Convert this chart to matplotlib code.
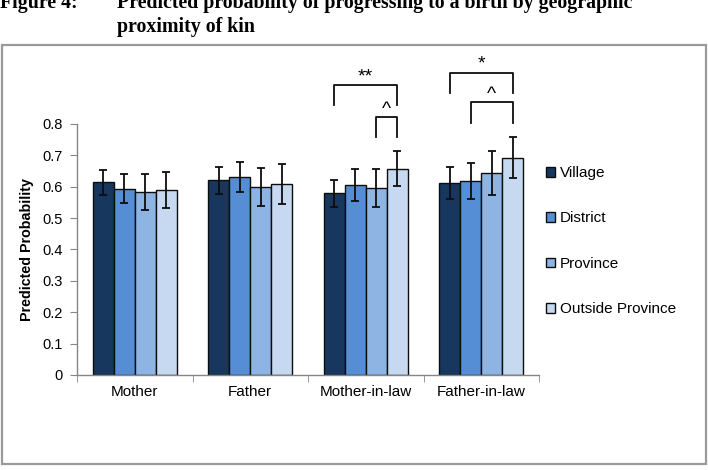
import matplotlib
matplotlib.use("Agg")
import matplotlib.pyplot as plt
from matplotlib.patches import Rectangle, Patch
import numpy as np

categories = ["Mother", "Father", "Mother-in-law", "Father-in-law"]
series = ["Village", "District", "Province", "Outside Province"]
village = [0.614, 0.621, 0.579, 0.612]
district = [0.594, 0.630, 0.607, 0.619]
province = [0.583, 0.600, 0.595, 0.644]
outside = [0.590, 0.608, 0.658, 0.692]
village_err = [0.039, 0.043, 0.042, 0.050]
district_err = [0.046, 0.048, 0.051, 0.058]
province_err = [0.057, 0.060, 0.061, 0.070]
outside_err = [0.058, 0.063, 0.057, 0.065]
ytick_vals = [0, 0.1, 0.2, 0.3, 0.4, 0.5, 0.6, 0.7, 0.8]
ytick_labels = ["0", "0.1", "0.2", "0.3", "0.4", "0.5", "0.6", "0.7", "0.8"]
colors = ["#17375E", "#558ED5", "#8EB4E3", "#C6D9F1"]

values = [village, district, province, outside]
errors = [village_err, district_err, province_err, outside_err]

W, H = 708, 470
fig = plt.figure(figsize=(W / 100, H / 100), dpi=100)
fig.patch.set_facecolor("white")

# outer frame
fig.add_artist(Rectangle((2 / W, (H - 464) / H), 704 / W, 419 / H,
                         transform=fig.transFigure, fill=False,
                         edgecolor="#9A9A9A", linewidth=1.6))

# title
serif = ["Liberation Serif", "DejaVu Serif"]
tfs = 14.3
fig.text(0 / W, 1 - 8 / H, "Figure 4:", fontsize=tfs, fontweight="bold",
         family=serif, va="baseline", ha="left")
fig.text(117 / W, 1 - 8 / H, "Predicted probability of progressing to a birth by geographic",
         fontsize=tfs, fontweight="bold", family=serif, va="baseline", ha="left")
fig.text(117 / W, 1 - 32 / H, "proximity of kin", fontsize=tfs, fontweight="bold",
         family=serif, va="baseline", ha="left")

ax = fig.add_axes([77 / W, (H - 375) / H, 462 / W, 251 / H])
sans = ["Liberation Sans", "DejaVu Sans"]

x = np.arange(len(categories))
bw = 0.182
for j in range(4):
    ax.bar(x + (j - 1.5) * bw, values[j], bw, color=colors[j],
           edgecolor="#0D0D0D", linewidth=1.0, zorder=2)
    ax.errorbar(x + (j - 1.5) * bw, values[j], yerr=errors[j], fmt="none",
                ecolor="#0D0D0D", elinewidth=1.3, capsize=3.0, capthick=1.3, zorder=3)

ax.set_xlim(-0.5, 3.5)
ax.set_ylim(0, 0.8)
ax.set_yticks(ytick_vals)
ax.set_yticklabels(ytick_labels, family=sans, fontsize=10.5)
ax.set_xticks(x)
ax.set_xticklabels(categories, family=sans, fontsize=11)
ax.tick_params(axis="x", length=0, pad=7)
ax.tick_params(axis="y", length=5, color="#868686", pad=5)
# category boundary ticks
ax.set_xticks(np.arange(-0.5, 4, 1), minor=True)
ax.tick_params(axis="x", which="minor", length=5, color="#868686")
for s in ["top", "right"]:
    ax.spines[s].set_visible(False)
for s in ["left", "bottom"]:
    ax.spines[s].set_color("#868686")
    ax.spines[s].set_linewidth(1.0)
ax.set_ylabel("Predicted Probability", family=sans, fontsize=10.3,
              fontweight="bold", labelpad=6)

# significance brackets
def bracket(x0, x1, ytop, ybot, label, ly):
    ax.plot([x0, x0, x1, x1], [ybot, ytop, ytop, ybot], color="#0D0D0D",
            linewidth=1.3, clip_on=False)
    ax.text((x0 + x1) / 2, ly, label, ha="center", va="center",
            fontsize=14, family=sans, clip_on=False)

off = 1.5 * bw
bracket(2 - off, 2 + off, 0.923, 0.861, "**", 0.950)
bracket(2 + 0.5 * bw, 2 + off, 0.823, 0.759, "^", 0.845)
bracket(3 - off, 3 + off, 0.963, 0.900, "*", 0.990)
bracket(3 - 0.5 * bw, 3 + off, 0.870, 0.804, "^", 0.893)

handles = [Patch(facecolor=colors[j], edgecolor="#0D0D0D", linewidth=1.0)
           for j in range(4)]
leg = fig.legend(handles, series, loc="upper left",
                 bbox_to_anchor=(540 / W, 1 - 160 / H), frameon=False,
                 prop={"family": sans, "size": 11}, handlelength=0.6,
                 handleheight=0.6, handletextpad=0.3, labelspacing=2.05,
                 borderaxespad=0)

fig.savefig("out.png", dpi=100, facecolor="white")
